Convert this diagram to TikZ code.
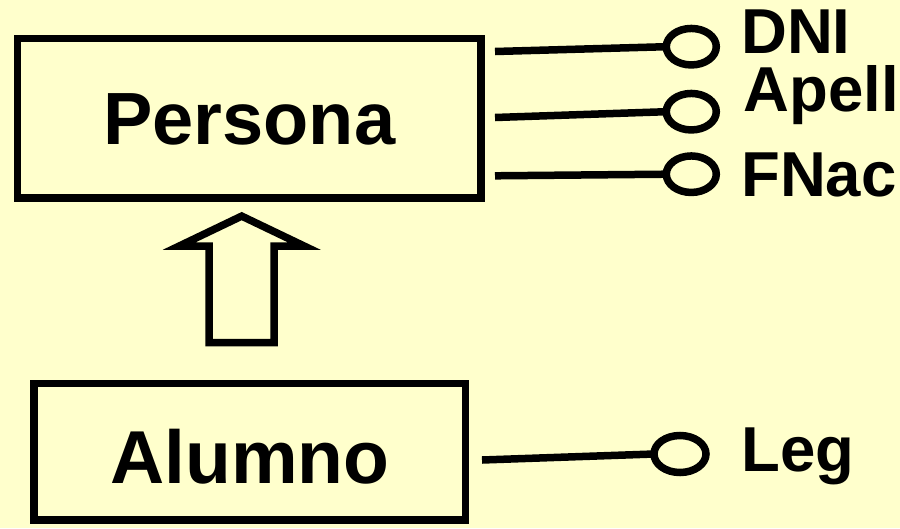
\documentclass[tikz,border=0pt]{standalone}
\usepackage{fontspec}
\setmainfont{Liberation Sans}
\usetikzlibrary{shapes.geometric}
\definecolor{paper}{RGB}{255,255,204}
\tikzset{
  stroke/.style={line width=7.5pt, black},
  classbox/.style={draw, stroke, rectangle, inner sep=0pt, outer sep=0pt,
    text depth=0pt},
  attrib/.style={draw, stroke, ellipse, inner sep=0pt, outer sep=0pt},
  attrlabel/.style={anchor=base west, inner sep=0pt,
    font=\fontsize{63.5}{70}\selectfont\bfseries},
  link/.style={stroke, line cap=butt}
}
\begin{document}
\begin{tikzpicture}[x=1pt, y=-1pt]
  % page and background
  \fill[paper] (0,0) rectangle (900,528);
  \useasboundingbox (0,0) rectangle (900,528);

  % classes
  \node[classbox, minimum width=463.5pt, minimum height=159.5pt,
        font=\fontsize{74}{80}\selectfont\bfseries,
        text height=0.716*74pt] (persona) at (249.25,118.25) {Persona};
  \node[classbox, minimum width=431.5pt, minimum height=136.7pt,
        font=\fontsize{75}{80}\selectfont\bfseries,
        text height=0.716*75pt+10pt] (alumno) at (249.75,451.65) {Alumno};

  % inheritance arrow (hollow block arrow)
  \draw[stroke, line join=miter, miter limit=10]
    (209,342.7) -- (274,342.7) -- (274,246) -- (304.1,246)
    -- (241.7,216.1) -- (179.3,246) -- (209,246) -- cycle;

  % attributes of Persona
  \node[attrib, minimum width=50pt, minimum height=36.5pt] (dni)   at (691.3,46.7)  {};
  \node[attrib, minimum width=50pt, minimum height=36.5pt] (apell) at (691.3,111.7) {};
  \node[attrib, minimum width=50pt, minimum height=36.5pt] (fnac)  at (691.3,174.2) {};
  \coordinate (dniS)   at (495,51.5);
  \coordinate (apellS) at (495,117.5);
  \coordinate (fnacS)  at (495,175.8);
  \draw[link] (dniS)   -- (dni.west);
  \draw[link] (apellS) -- (apell.west);
  \draw[link] (fnacS)  -- (fnac.west);
  \node[attrlabel] (dniL)   at (741,53.3)  {DNI};
  \node[attrlabel] (apellL) at (743.5,111.7) {Apell};
  \node[attrlabel] (fnacL)  at (741,196.7) {FNac};

  % attribute of Alumno
  \node[attrib, minimum width=52pt, minimum height=37pt] (leg) at (680,454) {};
  \coordinate (legS) at (482,460);
  \draw[link] (legS) -- (leg.west);
  \node[attrlabel] (legL) at (741,471.7) {Leg};
\end{tikzpicture}
\end{document}
